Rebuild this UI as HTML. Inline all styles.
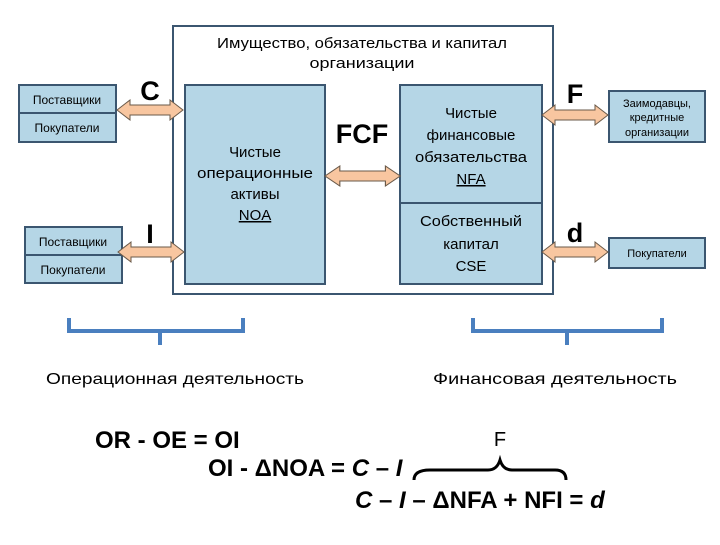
<!DOCTYPE html>
<html><head><meta charset="utf-8"><style>
body{margin:0;background:#fff;}
svg text{font-family:"Liberation Sans",sans-serif;}
</style></head><body>
<svg width="720" height="540" viewBox="0 0 720 540" xmlns="http://www.w3.org/2000/svg">
<defs>
<g id="arr"><polygon points="0,0 13,-10 13,-5 53,-5 53,-10 66,0 53,10 53,5 13,5 13,10" fill="#f8c6a0" stroke="#6a5a4a" stroke-width="1"/></g>
</defs>
<rect x="173" y="26" width="380" height="268" fill="#fff" stroke="#3b5670" stroke-width="2"/>
<text x="362" y="48" font-size="15" text-anchor="middle" textLength="290" lengthAdjust="spacingAndGlyphs">Имущество, обязательства и капитал</text>
<text x="362" y="68" font-size="15" text-anchor="middle" textLength="105" lengthAdjust="spacingAndGlyphs">организации</text>
<g fill="#b5d6e6" stroke="#3b5670" stroke-width="2">
<rect x="185" y="85" width="140" height="199"/>
<rect x="400" y="85" width="142" height="199"/>
<line x1="400" y1="203" x2="542" y2="203"/>
<rect x="19" y="85" width="97" height="57"/>
<line x1="19" y1="113" x2="116" y2="113"/>
<rect x="25" y="227" width="97" height="56"/>
<line x1="25" y1="255" x2="122" y2="255"/>
<rect x="609" y="91" width="96" height="51"/>
<rect x="609" y="238" width="96" height="30"/>
</g>
<g font-size="12" text-anchor="middle">
<text x="67" y="104">Поставщики</text>
<text x="67" y="132">Покупатели</text>
<text x="73" y="246">Поставщики</text>
<text x="73" y="274">Покупатели</text>
<text x="657" y="107" font-size="11">Заимодавцы,</text>
<text x="657" y="121" font-size="11">кредитные</text>
<text x="657" y="136" font-size="11">организации</text>
<text x="657" y="257" font-size="11">Покупатели</text>
</g>
<g font-size="15" text-anchor="middle">
<text x="255" y="157">Чистые</text>
<text x="255" y="178" textLength="116" lengthAdjust="spacingAndGlyphs">операционные</text>
<text x="255" y="199">активы</text>
<text x="255" y="220" text-decoration="underline">NOA</text>
<text x="471" y="118">Чистые</text>
<text x="471" y="140">финансовые</text>
<text x="471" y="162" textLength="112" lengthAdjust="spacingAndGlyphs">обязательства</text>
<text x="471" y="184" text-decoration="underline">NFA</text>
<text x="471" y="226" textLength="102" lengthAdjust="spacingAndGlyphs">Собственный</text>
<text x="471" y="249">капитал</text>
<text x="471" y="271">CSE</text>
</g>
<use href="#arr" x="117" y="110"/>
<use href="#arr" x="118" y="252"/>
<use href="#arr" x="0" y="0" transform="translate(325 176) scale(1.14 1)"/>
<use href="#arr" x="542" y="115"/>
<use href="#arr" x="542" y="252"/>
<g font-size="27" font-weight="bold" text-anchor="middle">
<text x="150" y="100">C</text>
<text x="150" y="243">I</text>
<text x="362" y="143">FCF</text>
<text x="575" y="103">F</text>
<text x="575" y="242">d</text>
</g>
<g fill="none" stroke="#4a7fbf" stroke-width="4">
<path d="M69 318 V331 H243 V318 M160 331 V345"/>
<path d="M473 318 V331 H662 V318 M567 331 V345"/>
</g>
<text x="175" y="384" font-size="16" text-anchor="middle" textLength="258" lengthAdjust="spacingAndGlyphs">Операционная деятельность</text>
<text x="555" y="384" font-size="16" text-anchor="middle" textLength="244" lengthAdjust="spacingAndGlyphs">Финансовая деятельность</text>
<g font-size="24" font-weight="bold">
<text x="95" y="448">OR - OE = OI</text>
<text x="208" y="476">OI - ΔNOA = <tspan font-style="italic">C</tspan> – <tspan font-style="italic">I</tspan></text>
<text x="355" y="508"><tspan font-style="italic">C</tspan> – <tspan font-style="italic">I</tspan> – ΔNFA + NFI = <tspan font-style="italic">d</tspan></text>
</g>
<text x="500" y="446" font-size="20" text-anchor="middle">F</text>
<path d="M414 480 Q414 470 430 470 H488 Q497 470 500 460 Q503 470 512 470 H555 Q566 470 566 480" fill="none" stroke="#000" stroke-width="3"/>
</svg>
</body></html>
